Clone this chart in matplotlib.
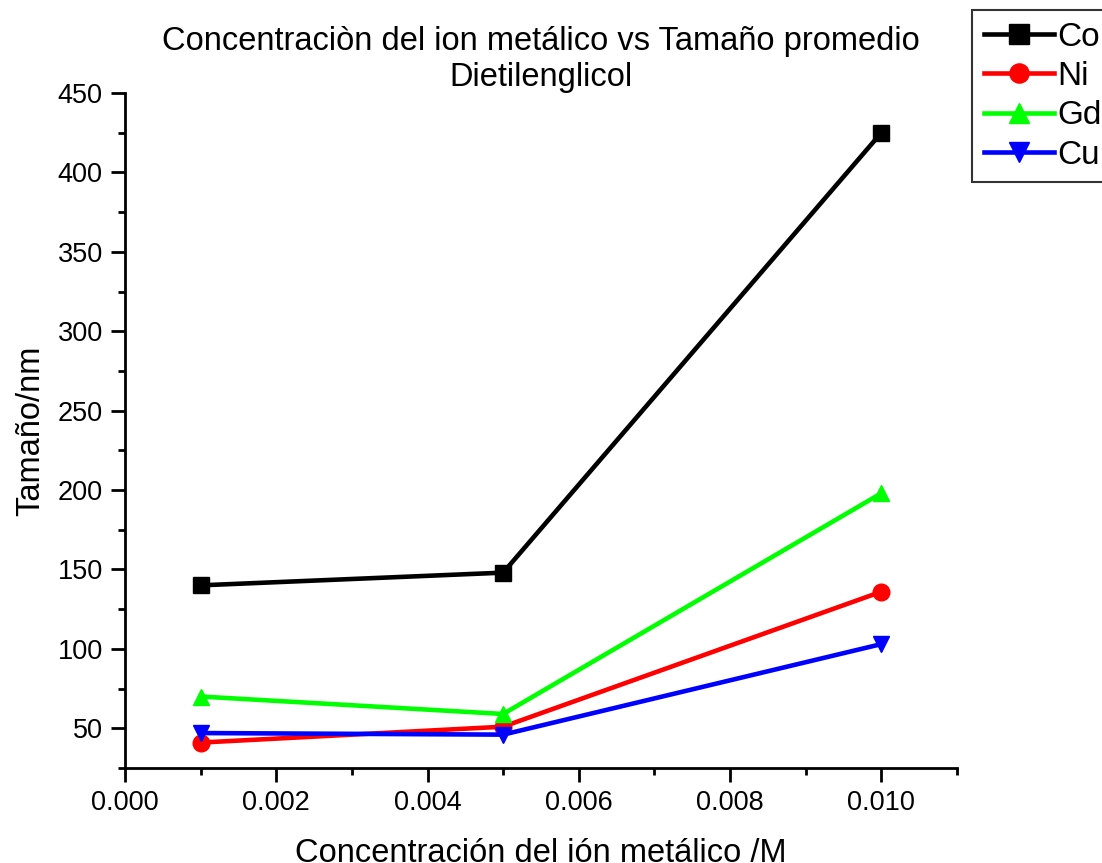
import matplotlib.pyplot as plt
from matplotlib.ticker import MultipleLocator

plt.rcParams['font.family'] = ['Liberation Sans', 'DejaVu Sans']

conc = [0.001, 0.005, 0.010]
co = [140, 148, 425]
ni = [41, 51, 136]
gd = [70, 59, 198]
cu = [47, 46, 103]

series = [
    ('Co', co, 'black', 's'),
    ('Ni', ni, 'red', 'o'),
    ('Gd', gd, '#00ff00', '^'),
    ('Cu', cu, 'blue', 'v'),
]

fig = plt.figure(figsize=(11.02, 8.63), dpi=100)
ax = fig.add_axes([0.1134, 0.1101, 0.755, 0.7821])

for name, vals, color, marker in series:
    ax.plot(conc, vals, color=color, marker=marker, lw=3.3, ms=12, label=name)

ax.set_xlim(0, 0.011)
ax.set_ylim(25, 450)
ax.xaxis.set_major_locator(MultipleLocator(0.002))
ax.xaxis.set_minor_locator(MultipleLocator(0.001))
ax.yaxis.set_major_locator(MultipleLocator(50))
ax.yaxis.set_minor_locator(MultipleLocator(25))
ax.set_xticks([0, 0.002, 0.004, 0.006, 0.008, 0.010])
ax.set_xticklabels(['0.000', '0.002', '0.004', '0.006', '0.008', '0.010'])
ax.set_yticks(range(50, 451, 50))

for s in ('top', 'right'):
    ax.spines[s].set_visible(False)
for s in ('left', 'bottom'):
    ax.spines[s].set_linewidth(2)
ax.tick_params(which='major', direction='out', length=10, width=2, labelsize=19.5, pad=6)
ax.tick_params(which='minor', direction='out', length=5, width=2)

ax.set_xlabel('Concentración del ión metálico /M', fontsize=23.5, labelpad=16)
ax.set_ylabel('Tamaño/nm', fontsize=23.5, labelpad=8)
ax.set_title('Concentraciòn del ion metálico vs Tamaño promedio\nDietilenglicol',
             fontsize=23.5, pad=4)

leg = fig.legend(loc='upper left', bbox_to_anchor=(972 / 1102, 1 - 10 / 863),
                 fontsize=24, handlelength=2.1, frameon=True, fancybox=False,
                 edgecolor='black', borderaxespad=0, labelspacing=0.25,
                 handletextpad=0.1, borderpad=0.35, markerscale=1.15)
leg.get_frame().set_linewidth(1.5)

fig.savefig('out.png', dpi=100)
